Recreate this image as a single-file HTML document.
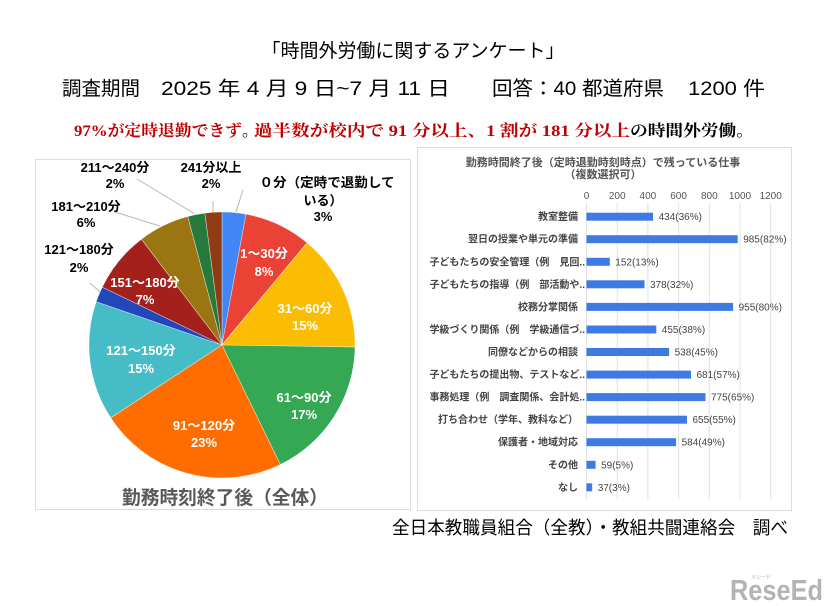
<!DOCTYPE html>
<html><head><meta charset="utf-8"><style>
html,body{margin:0;padding:0;background:#fff;}
svg{display:block;}
.jp{font-family:"Liberation Sans","Noto Sans CJK JP",sans-serif;}
.sr{font-family:"Liberation Serif","Noto Serif CJK SC",serif;}
</style></head><body>
<svg width="826" height="606" viewBox="0 0 826 606" xmlns="http://www.w3.org/2000/svg" class="jp">
<rect width="826" height="606" fill="#fff"/>
<!-- Header -->
<text x="413" y="57" font-size="19" text-anchor="middle" fill="#000" textLength="303" lengthAdjust="spacingAndGlyphs">「時間外労働に関するアンケート」</text>
<text x="62" y="95" font-size="19.5" fill="#000" textLength="78" lengthAdjust="spacingAndGlyphs">調査期間</text>
<text x="161" y="95" font-size="19.5" fill="#000" textLength="289" lengthAdjust="spacingAndGlyphs">2025 年 4 月 9 日~7 月 11 日</text>
<text x="492" y="95" font-size="19.5" fill="#000" textLength="172" lengthAdjust="spacingAndGlyphs">回答：40 都道府県</text>
<text x="688" y="95" font-size="19.5" fill="#000" textLength="77" lengthAdjust="spacingAndGlyphs">1200 件</text>
<g class="sr" font-size="16" font-weight="bold">
<text x="74" y="136" fill="#c00000" textLength="168" lengthAdjust="spacingAndGlyphs">97%が定時退勤できず</text>
<text x="242" y="136" fill="#000">。</text>
<text x="254" y="136" fill="#c00000" textLength="376" lengthAdjust="spacingAndGlyphs">過半数が校内で 91 分以上、1 割が 181 分以上</text>
<text x="630" y="136" fill="#000" textLength="124" lengthAdjust="spacingAndGlyphs">の時間外労働。</text>
</g>
<!-- Pie box -->
<rect x="35.5" y="159.5" width="375" height="350" fill="#fff" stroke="#dcdcdc" stroke-width="1"/>
<g stroke="#fff" stroke-width="0.6" stroke-opacity="0.6">
<path d="M222,345 L222,212 A133,133 0 0 1 246.0,214.2 Z" fill="#4285f4"/>
<path d="M222,345 L246.0,214.2 A133,133 0 0 1 307.1,242.8 Z" fill="#ea4335"/>
<path d="M222,345 L307.1,242.8 A133,133 0 0 1 355.0,347.1 Z" fill="#fbbc04"/>
<path d="M222,345 L355.0,347.1 A133,133 0 0 1 280.3,464.5 Z" fill="#34a853"/>
<path d="M222,345 L280.3,464.5 A133,133 0 0 1 110.7,417.8 Z" fill="#ff6d01"/>
<path d="M222,345 L110.7,417.8 A133,133 0 0 1 96.2,301.7 Z" fill="#46bdc6"/>
<path d="M222,345 L96.2,301.7 A133,133 0 0 1 102.3,287.1 Z" fill="#2147ba"/>
<path d="M222,345 L102.3,287.1 A133,133 0 0 1 141.4,239.2 Z" fill="#a3201b"/>
<path d="M222,345 L141.4,239.2 A133,133 0 0 1 187.8,216.5 Z" fill="#9b7512"/>
<path d="M222,345 L187.8,216.5 A133,133 0 0 1 204.9,213.1 Z" fill="#267a3b"/>
<path d="M222,345 L204.9,213.1 A133,133 0 0 1 222,212 Z" fill="#8f3c15"/>
</g>
<!-- inside labels -->
<g font-size="13" font-weight="bold" fill="#fff" text-anchor="middle">
<text x="264" y="258">1～30分</text><text x="264" y="276">8%</text>
<text x="305" y="313">31～60分</text><text x="305" y="330">15%</text>
<text x="304" y="402">61～90分</text><text x="304" y="419">17%</text>
<text x="204" y="430">91～120分</text><text x="204" y="447">23%</text>
<text x="141" y="355">121～150分</text><text x="141" y="373">15%</text>
<text x="145" y="287">151～180分</text><text x="145" y="304">7%</text>
</g>
<!-- outside labels -->
<g stroke="#b5b5b5" stroke-width="1" fill="none">
<line x1="137" y1="179" x2="195" y2="214"/>
<line x1="115" y1="212" x2="160" y2="226"/>
<line x1="90" y1="283" x2="100" y2="292"/>
<line x1="213" y1="201" x2="213" y2="212"/>
<line x1="243" y1="190" x2="236" y2="212"/>
</g>
<g font-size="13" font-weight="bold" fill="#000" text-anchor="middle">
<text x="115" y="172">211～240分</text><text x="115" y="188">2%</text>
<text x="86" y="211">181～210分</text><text x="86" y="227">6%</text>
<text x="79" y="254">121～180分</text><text x="79" y="272">2%</text>
<text x="211" y="172">241分以上</text><text x="211" y="188">2%</text>
<text x="327" y="187" textLength="135" lengthAdjust="spacingAndGlyphs">０分（定時で退勤して</text>
<text x="323" y="205">いる）</text>
<text x="323" y="221">3%</text>
</g>
<text x="225" y="504" font-size="19" font-weight="bold" fill="#595959" text-anchor="middle" textLength="206" lengthAdjust="spacingAndGlyphs">勤務時刻終了後（全体）</text>
<!-- Bar box -->
<rect x="417.5" y="147.5" width="374" height="363" fill="#fff" stroke="#dcdcdc" stroke-width="1"/>
<g font-size="11" font-weight="bold" fill="#555" text-anchor="middle">
<text x="603" y="166">勤務時間終了後（定時退勤時刻時点）で残っている仕事</text>
<text x="603" y="178">（複数選択可）</text>
</g>
<g stroke="#e0e0e0" stroke-width="1">
<line x1="586.5" y1="203" x2="586.5" y2="499"/>
<line x1="617.2" y1="203" x2="617.2" y2="499"/>
<line x1="647.9" y1="203" x2="647.9" y2="499"/>
<line x1="678.6" y1="203" x2="678.6" y2="499"/>
<line x1="709.3" y1="203" x2="709.3" y2="499"/>
<line x1="740" y1="203" x2="740" y2="499"/>
<line x1="770.7" y1="203" x2="770.7" y2="499"/>
</g>
<g font-size="10" fill="#555" text-anchor="middle">
<text x="586.5" y="199">0</text>
<text x="617.2" y="199">200</text>
<text x="647.9" y="199">400</text>
<text x="678.6" y="199">600</text>
<text x="709.3" y="199">800</text>
<text x="740" y="199">1000</text>
<text x="770.7" y="199">1200</text>
</g>
<g fill="#3d7be3">
<rect x="586.5" y="212.7" width="66.6" height="8"/>
<rect x="586.5" y="235.2" width="151.2" height="8"/>
<rect x="586.5" y="257.8" width="23.3" height="8"/>
<rect x="586.5" y="280.3" width="58.0" height="8"/>
<rect x="586.5" y="302.9" width="146.6" height="8"/>
<rect x="586.5" y="325.5" width="69.8" height="8"/>
<rect x="586.5" y="348.0" width="82.6" height="8"/>
<rect x="586.5" y="370.6" width="104.5" height="8"/>
<rect x="586.5" y="393.1" width="119.0" height="8"/>
<rect x="586.5" y="415.7" width="100.5" height="8"/>
<rect x="586.5" y="438.2" width="89.6" height="8"/>
<rect x="586.5" y="460.8" width="9.1" height="8"/>
<rect x="586.5" y="483.3" width="5.7" height="8"/>
</g>
<g font-size="10" font-weight="bold" fill="#444" text-anchor="end">
<text x="578" y="220.2">教室整備</text>
<text x="578" y="242.7">翌日の授業や単元の準備</text>
<text x="585" y="265.3">子どもたちの安全管理（例　見回..</text>
<text x="585" y="287.8">子どもたちの指導（例　部活動や..</text>
<text x="578" y="310.4">校務分掌関係</text>
<text x="585" y="333.0">学級づくり関係（例　学級通信づ..</text>
<text x="578" y="355.5">同僚などからの相談</text>
<text x="585" y="378.1">子どもたちの提出物、テストなど..</text>
<text x="585" y="400.6">事務処理（例　調査関係、会計処..</text>
<text x="578" y="423.2">打ち合わせ（学年、教科など）</text>
<text x="578" y="445.7">保護者・地域対応</text>
<text x="578" y="468.3">その他</text>
<text x="578" y="490.8">なし</text>
</g>
<g font-size="10" fill="#444">
<text x="658.6" y="220.2">434(36%)</text>
<text x="743.2" y="242.7">985(82%)</text>
<text x="615.3" y="265.3">152(13%)</text>
<text x="650" y="287.8">378(32%)</text>
<text x="738.6" y="310.4">955(80%)</text>
<text x="661.8" y="333.0">455(38%)</text>
<text x="674.6" y="355.5">538(45%)</text>
<text x="696.5" y="378.1">681(57%)</text>
<text x="711" y="400.6">775(65%)</text>
<text x="692.5" y="423.2">655(55%)</text>
<text x="681.6" y="445.7">584(49%)</text>
<text x="601.1" y="468.3">59(5%)</text>
<text x="597.7" y="490.8">37(3%)</text>
</g>
<!-- footer -->
<text x="392" y="534" font-size="18" fill="#000" textLength="396" lengthAdjust="spacingAndGlyphs">全日本教職員組合（全教）・教組共闘連絡会　調べ</text>
<!-- watermark -->
<text x="751" y="579" font-size="5" fill="#aaa">リシード</text>
<text x="730" y="600" font-size="29" font-weight="bold" fill="#b3b3b3" textLength="93" lengthAdjust="spacingAndGlyphs">ReseEd</text>
</svg>
</body></html>
